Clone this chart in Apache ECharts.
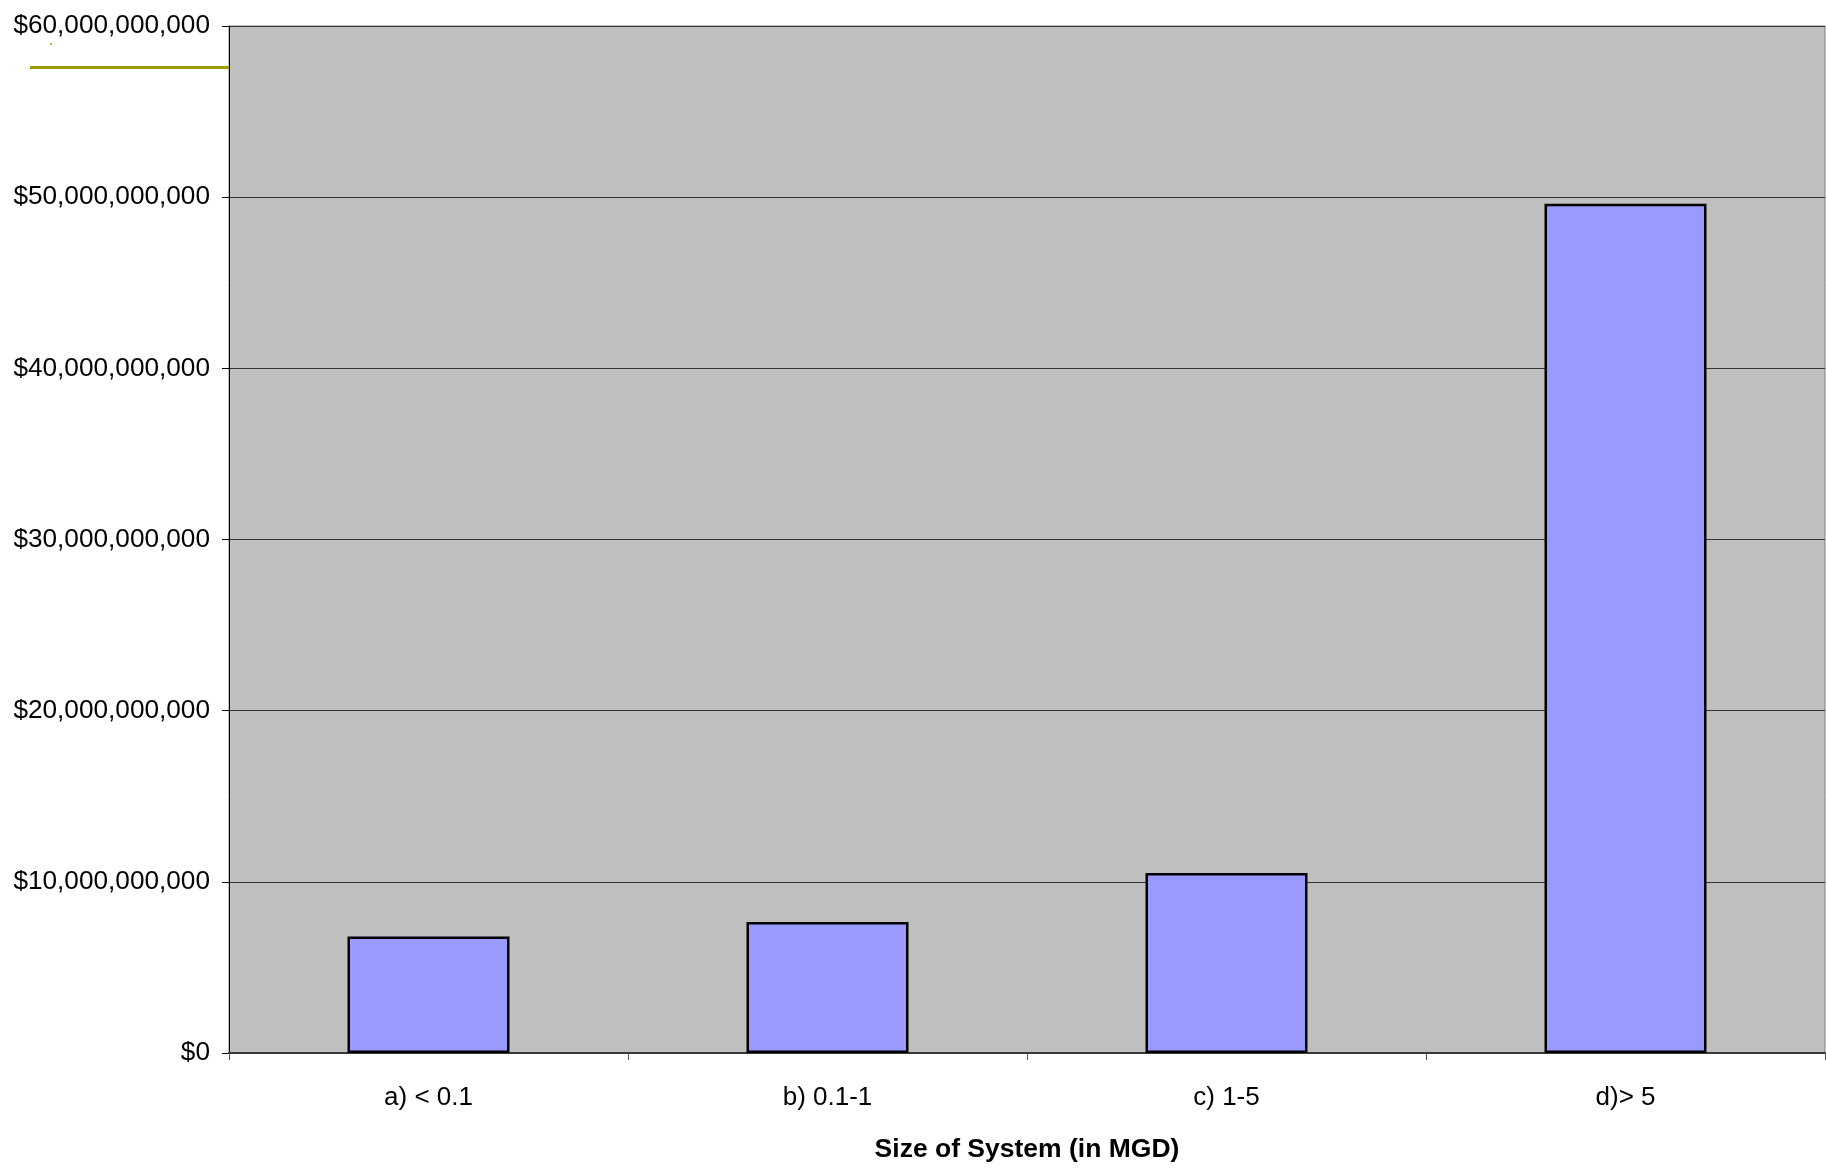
<!DOCTYPE html>
<html>
<head>
<meta charset="utf-8">
<title>Cost by Size of System</title>
<script src="https://cdn.jsdelivr.net/npm/echarts@6/dist/echarts.min.js"></script>
<style>
  html, body { margin: 0; padding: 0; background: #ffffff; }
  #chart { width: 1826px; height: 1168px; }
</style>
</head>
<body>
<div id="chart"></div>
<script>
// System size classes (million gallons per day)
const categories = ['a) < 0.1', 'b) 0.1-1', 'c) 1-5', 'd)> 5'];
// Total cost per size class, in dollars
const costValues = [6.81e9, 7.66e9, 10.52e9, 49.62e9];
// Value axis range and step
const yMin = 0;
const yMax = 60e9;
const yStep = 10e9;

function dollars(v) {
  return '$' + Math.round(v).toString().replace(/\B(?=(\d{3})+(?!\d))/g, ',');
}

const FONT = "'Liberation Sans', Arial, sans-serif";
const chart = echarts.init(document.getElementById('chart'), null, { renderer: 'canvas' });

chart.setOption({
  animation: false,
  backgroundColor: '#ffffff',
  grid: {
    left: 229, top: 26, right: 1, bottom: 115,
    show: true,
    backgroundColor: '#C0C0C0',
    borderColor: '#808080',
    borderWidth: 1
  },
  xAxis: {
    type: 'category',
    data: categories,
    name: 'Size of System (in MGD)',
    nameLocation: 'middle',
    nameGap: 83,
    nameTextStyle: { fontFamily: FONT, fontSize: 26.5, fontWeight: 'bold', color: '#000' },
    axisLine: { show: true, lineStyle: { color: '#3a3a3a', width: 2 } },
    axisTick: { show: true, length: 7, alignWithLabel: false, lineStyle: { color: '#555', width: 1 } },
    axisLabel: { margin: 32, fontFamily: FONT, fontSize: 26, color: '#000' },
    splitLine: { show: false }
  },
  yAxis: {
    type: 'value',
    min: yMin, max: yMax, interval: yStep,
    axisLine: { show: true, lineStyle: { color: '#000', width: 1 } },
    axisTick: { show: true, length: 7, lineStyle: { color: '#000', width: 1 } },
    axisLabel: { margin: 19, fontFamily: FONT, fontSize: 26.2, color: '#000', formatter: dollars },
    splitLine: { show: true, lineStyle: { color: '#333', width: 1 } }
  },
  series: [{
    type: 'bar',
    data: costValues,
    barWidth: '40.6%',
    itemStyle: { color: '#9999FF', borderColor: '#000', borderWidth: 2.5 }
  }],
  graphic: [
    { type: 'line', shape: { x1: 30, y1: 67.5, x2: 229, y2: 67.5 },
      style: { stroke: '#9C9C00', lineWidth: 3 }, z: 10 },
    { type: 'rect', shape: { x: 50, y: 43, width: 2, height: 2 },
      style: { fill: '#B5B540' }, z: 10 }
  ]
});
</script>
</body>
</html>
